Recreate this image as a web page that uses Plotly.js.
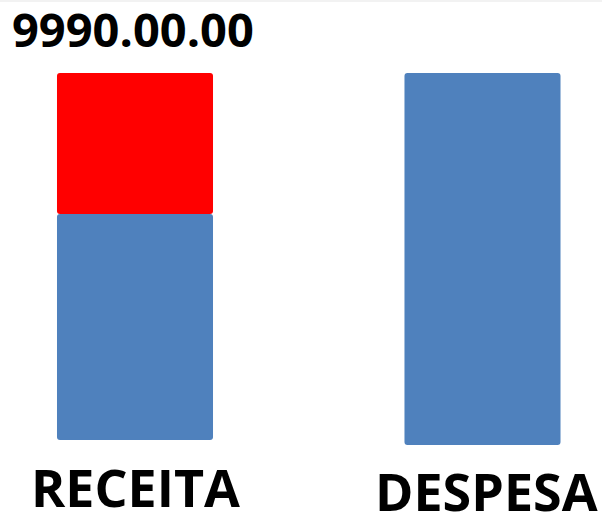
<!DOCTYPE html>
<html>
<head>
<meta charset="utf-8">
<script src="https://cdn.plot.ly/plotly-3.0.1.min.js"></script>
<style>html,body{margin:0;padding:0;background:#fff;}#chart{width:602px;height:512px;}</style>
</head>
<body>
<div id="chart"></div>
<script>
// Data
const categories = ["RECEITA", "DESPESA"];
const blueBase = [5, 0];
const blueValues = [226, 372];
const redCategories = ["RECEITA"];
const redBase = [231];
const redValues = [141];
const chartTitle = "9990.00.00";

const FONT = "Open Sans, Noto Sans, DejaVu Sans, sans-serif";

const traces = [
  {
    type: "bar",
    x: categories,
    y: blueValues,
    base: blueBase,
    width: 0.449,
    marker: {color: "#4F81BD", cornerradius: 3, line: {width: 0}},
    hoverinfo: "skip",
    showlegend: false
  },
  {
    type: "bar",
    x: redCategories,
    y: redValues,
    base: redBase,
    width: 0.449,
    marker: {color: "#FF0000", cornerradius: 3, line: {width: 0}},
    hoverinfo: "skip",
    showlegend: false
  }
];

const layout = {
  width: 602,
  height: 512,
  margin: {l: 0, r: 0, t: 0, b: 0, pad: 0},
  paper_bgcolor: "#ffffff",
  plot_bgcolor: "#ffffff",
  barmode: "overlay",
  showlegend: false,
  title: {
    text: "<b>" + chartTitle + "</b>",
    font: {family: FONT, size: 47, color: "#000000"},
    x: 12 / 602,
    xanchor: "left",
    xref: "container",
    y: 1 - 31 / 512,
    yanchor: "middle",
    yref: "container"
  },
  xaxis: {
    type: "category",
    range: [-0.3885, 1.3439],
    showticklabels: false,
    showgrid: false,
    zeroline: false,
    showline: false,
    ticks: ""
  },
  yaxis: {
    range: [-67, 445],
    showticklabels: false,
    showgrid: false,
    zeroline: false,
    showline: false,
    ticks: ""
  },
  annotations: [
    {
      text: "<b>" + categories[0] + "</b>",
      x: categories[0], xref: "x", xanchor: "center",
      y: 1 - 486 / 512, yref: "paper", yanchor: "middle",
      showarrow: false,
      font: {family: FONT, size: 52, color: "#000000"}
    },
    {
      text: "<b>" + categories[1] + "</b>",
      x: categories[1], xref: "x", xanchor: "center", xshift: 4,
      y: 1 - 490 / 512, yref: "paper", yanchor: "middle",
      showarrow: false,
      font: {family: FONT, size: 52, color: "#000000"}
    }
  ],
  shapes: [
    {type: "rect", xref: "paper", yref: "paper", x0: 0, x1: 1, y0: 1 - 2 / 512, y1: 1,
     fillcolor: "#f2f2f2", line: {width: 0}, layer: "below"}
  ]
};

Plotly.newPlot("chart", traces, layout, {displayModeBar: false, staticPlot: true});
</script>
</body>
</html>
